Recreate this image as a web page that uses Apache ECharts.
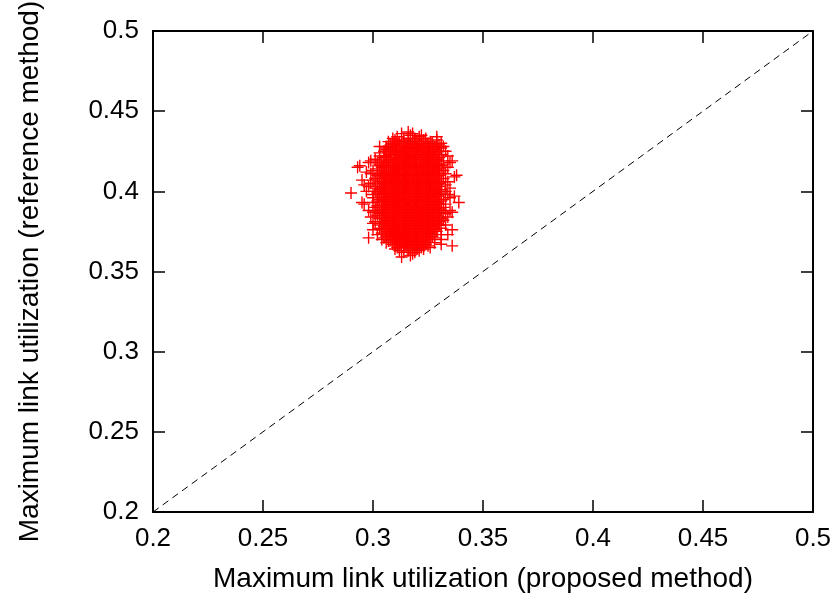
<!DOCTYPE html>
<html>
<head>
<meta charset="utf-8">
<title>Maximum link utilization</title>
<script src="https://cdn.jsdelivr.net/npm/echarts@6/dist/echarts.min.js"></script>
<style>
  html, body { margin: 0; padding: 0; background: #ffffff; }
  #chart { width: 840px; height: 601px; }
</style>
</head>
<body>
<div id="chart"></div>
<script>
// Axis ticks (both axes share the same range)
const tickValues = [0.2, 0.25, 0.3, 0.35, 0.4, 0.45, 0.5];
const tickLabels = ['0.2', '0.25', '0.3', '0.35', '0.4', '0.45', '0.5'];

// Reference-method utilization for each row of samples (x 1/1000)
const refUtilRows = [
  437, 436, 435, 434, 433, 432, 431, 430, 429, 428,
  427, 426, 425, 424, 423, 422, 421, 420, 419, 418,
  417, 416, 415, 414, 413, 412, 411, 410, 409, 408,
  407, 406, 405, 404, 403, 402, 401, 400, 399, 398,
  397, 396, 395, 394, 393, 392, 391, 390, 389, 388,
  387, 386, 385, 384, 383, 382, 381, 380, 379, 378,
  377, 376, 375, 374, 373, 372, 371, 370, 369, 368,
  367, 366, 365, 364, 363, 362, 361, 360, 359
];

// Proposed-method utilization of the samples in each row (x 1/1000)
const propUtilRows = [
  [316],
  [313, 318],
  [317, 322],
  [311, 321, 329],
  [309, 316, 319, 324],
  [310, 314, 319, 323, 329],
  [307, 312, 314, 318, 320, 326],
  [309, 311, 315, 317, 322, 325, 327, 331],
  [308, 310, 313, 316, 319, 321, 324, 327, 330],
  [303, 306, 309, 311, 314, 316, 318, 321, 323, 326, 329, 332],
  [306, 308, 312, 315, 318, 320, 323, 325, 328, 331],
  [306, 309, 311, 314, 317, 320, 322, 325, 328],
  [305, 307, 311, 313, 316, 319, 322, 324, 327, 330, 333],
  [303, 307, 310, 313, 315, 318, 321, 324, 326, 329],
  [308, 310, 312, 315, 317, 320, 323, 326, 328, 331],
  [303, 306, 308, 312, 314, 317, 319, 323, 325, 328, 334],
  [305, 308, 311, 314, 316, 319, 322, 325, 327, 330],
  [301, 307, 311, 313, 316, 318, 322, 324, 327, 329],
  [299, 304, 307, 310, 313, 315, 318, 321, 324, 326, 329, 332, 336],
  [298, 302, 306, 310, 312, 315, 317, 320, 323, 326, 328, 335],
  [303, 306, 309, 312, 314, 317, 319, 322, 324, 327, 330, 332],
  [294, 303, 305, 309, 311, 314, 316, 319, 322, 325, 328, 331],
  [293, 304, 307, 309, 312, 315, 318, 320, 323, 326, 328, 334],
  [302, 307, 310, 312, 315, 317, 320, 323, 325, 328, 330],
  [300, 305, 308, 311, 313, 316, 319, 322, 324, 327, 329, 332],
  [297, 303, 306, 309, 311, 314, 317, 320, 322, 325, 327, 330],
  [299, 304, 308, 310, 313, 315, 318, 321, 323, 326, 329, 333],
  [302, 305, 307, 310, 312, 315, 317, 320, 322, 325, 328, 330, 338],
  [303, 306, 309, 311, 314, 316, 319, 321, 324, 327, 329, 337],
  [301, 304, 307, 309, 312, 314, 317, 320, 323, 325, 328, 332],
  [295, 300, 306, 308, 311, 313, 316, 318, 321, 324, 326, 329],
  [303, 305, 308, 310, 313, 316, 318, 321, 323, 326, 328, 331, 334],
  [299, 305, 307, 310, 312, 315, 317, 320, 322, 325, 328, 330],
  [296, 302, 306, 308, 311, 314, 316, 319, 321, 324, 326, 329, 333],
  [298, 304, 307, 309, 312, 314, 317, 320, 322, 325, 327, 330],
  [301, 304, 306, 309, 311, 314, 316, 319, 322, 324, 327, 329, 335],
  [303, 305, 308, 310, 313, 315, 318, 320, 323, 326, 328, 331],
  [297, 301, 306, 309, 312, 314, 317, 319, 322, 324, 327, 330, 333],
  [290, 302, 305, 307, 310, 313, 315, 318, 321, 323, 326, 328, 331],
  [300, 303, 306, 308, 311, 313, 316, 319, 321, 324, 326, 329, 334],
  [304, 307, 309, 312, 314, 317, 320, 322, 325, 327, 330, 337],
  [300, 305, 308, 310, 313, 315, 318, 321, 323, 326, 328, 335],
  [303, 306, 309, 311, 314, 316, 319, 322, 324, 327, 329, 332],
  [302, 305, 307, 310, 312, 315, 317, 320, 323, 325, 328, 331],
  [295, 300, 306, 308, 311, 313, 316, 318, 321, 324, 326, 329, 339],
  [296, 304, 307, 309, 312, 314, 317, 319, 322, 325, 327, 330, 333],
  [302, 305, 308, 310, 313, 315, 318, 320, 323, 326, 328],
  [301, 306, 309, 311, 314, 316, 319, 321, 324, 327, 329, 332],
  [304, 307, 310, 312, 315, 317, 320, 322, 325, 328, 330],
  [298, 301, 305, 308, 311, 313, 316, 318, 321, 323, 326, 329, 331, 335],
  [300, 304, 306, 309, 312, 314, 317, 319, 322, 324, 327, 330, 336],
  [303, 307, 310, 313, 315, 318, 320, 323, 325, 328, 333],
  [302, 306, 308, 311, 314, 316, 319, 321, 324, 326, 329],
  [299, 304, 307, 309, 312, 315, 317, 320, 322, 325, 327, 330, 334],
  [303, 305, 308, 310, 313, 316, 318, 321, 323, 326, 328, 331],
  [306, 309, 311, 314, 317, 319, 322, 324, 327, 329, 332],
  [301, 305, 307, 310, 312, 315, 318, 320, 323, 325, 328, 330],
  [300, 304, 306, 308, 311, 313, 316, 319, 321, 324, 326, 329],
  [303, 307, 309, 312, 314, 317, 320, 322, 325, 327, 330, 333],
  [305, 308, 310, 313, 315, 318, 321, 323, 326, 328],
  [303, 307, 309, 311, 314, 316, 319, 322, 324, 327, 331],
  [300, 304, 308, 310, 312, 315, 317, 320, 323, 325, 328, 336],
  [306, 309, 311, 313, 316, 318, 321, 324, 326, 329],
  [304, 308, 310, 312, 314, 317, 319, 322, 325, 327],
  [302, 307, 309, 311, 313, 315, 318, 320, 323, 326, 331, 334],
  [306, 308, 310, 312, 314, 316, 319, 321, 324, 327],
  [298, 305, 309, 311, 313, 315, 317, 320, 322, 325, 328],
  [304, 308, 310, 312, 314, 316, 318, 321, 323, 326, 331],
  [307, 311, 313, 315, 317, 319, 322, 324],
  [306, 311, 313, 315, 318, 320, 323, 328],
  [309, 312, 314, 316, 319, 321, 324, 331],
  [310, 313, 315, 318, 320, 323, 325, 336],
  [311, 314, 316, 319, 322, 326],
  [310, 317, 320, 323],
  [312, 316, 321],
  [314, 319],
  [318],
  [317],
  [313]
];

// y = x reference line
const diagonal = [[0.2, 0.2], [0.5, 0.5]];

const samples = [];
refUtilRows.forEach((y, i) => {
  propUtilRows[i].forEach(x => samples.push([x / 1000, y / 1000]));
});

const FONT = '"Liberation Sans", Arial, Helvetica, sans-serif';
const fmt = v => {
  const k = tickValues.findIndex(t => Math.abs(t - v) < 1e-9);
  return k >= 0 ? tickLabels[k] : '';
};

const frameLine = { show: true, onZero: false, lineStyle: { color: '#000', width: 2 } };
const tick = { show: true, inside: true, length: 12, lineStyle: { color: '#000', width: 1.5 } };

function axis(extra) {
  return Object.assign({
    type: 'value', min: 0.2, max: 0.5, interval: 0.05,
    axisLine: frameLine, axisTick: tick, splitLine: { show: false }
  }, extra);
}

const chart = echarts.init(document.getElementById('chart'), null, { renderer: 'canvas' });
chart.setOption({
  animation: false,
  backgroundColor: '#ffffff',
  grid: {
    left: 153, top: 31, width: 660, height: 481,
    containLabel: false, outerBoundsMode: 'none'
  },
  xAxis: [
    axis({
      position: 'bottom',
      name: 'Maximum link utilization (proposed method)',
      nameLocation: 'middle', nameGap: 53,
      nameTextStyle: { color: '#000', fontSize: 28, fontFamily: FONT },
      axisLabel: { color: '#000', fontSize: 26, fontFamily: FONT, margin: 14, formatter: fmt }
    }),
    axis({ position: 'top', axisLabel: { show: false } })
  ],
  yAxis: [
    axis({
      position: 'left',
      name: 'Maximum link utilization (reference method)',
      nameLocation: 'middle', nameGap: 109,
      nameTextStyle: { color: '#000', fontSize: 28, fontFamily: FONT },
      axisLabel: { color: '#000', fontSize: 26, fontFamily: FONT, margin: 14, formatter: fmt }
    }),
    axis({ position: 'right', axisLabel: { show: false } })
  ],
  series: [
    {
      type: 'line',
      data: diagonal,
      xAxisIndex: 0, yAxisIndex: 0,
      showSymbol: false, symbol: 'none', silent: true,
      lineStyle: { color: '#000', width: 1, type: [7, 5] },
      z: 1
    },
    {
      type: 'scatter',
      data: samples,
      xAxisIndex: 0, yAxisIndex: 0,
      large: false,
      symbol: 'path://M0,6L12,6M6,0L6,12',
      symbolSize: 12,
      itemStyle: { color: 'none', borderColor: '#ff0000', borderWidth: 1.4, opacity: 1 },
      z: 2
    }
  ]
});
</script>
</body>
</html>
